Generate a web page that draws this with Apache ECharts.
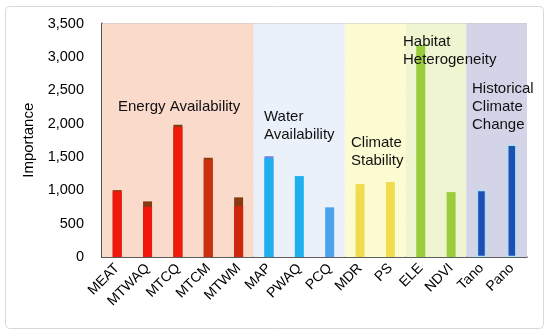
<!DOCTYPE html>
<html><head><meta charset="utf-8">
<script src="https://cdn.jsdelivr.net/npm/echarts@6/dist/echarts.min.js"></script>
<style>html,body{margin:0;padding:0;background:#fff}#c{width:550px;height:334px}</style>
</head><body><div id="c"></div>
<script>
const categories = ['MEAT','MTWAQ','MTCQ','MTCM','MTWM','MAP','PWAQ','PCQ','MDR','PS','ELE','NDVI','Tano','Pano'];
const importance = [1003, 834, 1981, 1487, 894, 1512, 1213, 744, 1093, 1123, 3178, 973, 1003, 1681];
const innerPart = [985, 750, 1950, 1460, 760, 1480, null, null, null, null, null, null, null, null];
const barColors = ['#8a3a12','#8a3a12','#8a3a12','#8a3a12','#8a3a12','#6d7fe3','#1fb0ee','#4ca2ec','#f0dc4e','#f0dc4e','#9acd3d','#9acd3d','#1f4fb5','#1f4fb5'];
const innerColors = ['#f0180c','#f0180c','#ee1a0c','#c9300e','#d0260c','#1fb0ee'];
const yTicks = [0, 500, 1000, 1500, 2000, 2500, 3000, 3500];
const groups = [
  {name:'Energy Availability', from:0, to:5, color:'#f9dacb'},
  {name:'Water\nAvailability', from:5, to:8, color:'#eaf1fa'},
  {name:'Climate\nStability', from:8, to:10, color:'#fdfbd1'},
  {name:'Habitat\nHeterogeneity', from:10, to:12, color:'#eff5d1'},
  {name:'Historical\nClimate\nChange', from:12, to:14, color:'#d4d4e8'}
];
const font = 'Liberation Sans, Arial, sans-serif';
const chart = echarts.init(document.getElementById('c'));
const labelPos = [[118,98],[264,108],[351,134],[403,33],[472,80]];
chart.setOption({
  animation:false,
  grid:{left:102,right:23,top:23.5,bottom:77},
  xAxis:[{
    type:'category', data:categories,
    axisLine:{lineStyle:{color:'#3a3a3a',width:1.5}},
    axisTick:{show:false},
    axisLabel:{rotate:45,fontSize:14,color:'#000',fontFamily:font,margin:9,interval:0}
  },{
    type:'value', min:0, max:14, show:false
  }],
  yAxis:{
    type:'value', min:0, max:3500, interval:500,
    name:'Importance', nameLocation:'middle', nameGap:50,
    nameTextStyle:{fontSize:15,color:'#000',fontFamily:font},
    axisLine:{show:true,lineStyle:{color:'#5a5450',width:2}},
    axisTick:{show:false},
    axisLabel:{fontSize:14.5,color:'#000',fontFamily:font,margin:18,
      formatter:v=>v.toLocaleString('en-US')},
    splitLine:{lineStyle:{color:'#c9c9c9',width:1}}
  },
  graphic:[{
    type:'rect', left:5, top:6, z:-10,
    shape:{width:538,height:322,r:4},
    style:{fill:'#fff',stroke:'#d8d8d8',lineWidth:1}
  }].concat(groups.map((g,i)=>({
    type:'text', left:labelPos[i][0], top:labelPos[i][1], z:100,
    style:{text:g.name, fontSize:15, fontFamily:font, fill:'#111', lineHeight:18}
  }))),
  series:[{
    type:'bar', xAxisIndex:1, data:[], silent:true,
    markArea:{silent:true, data:groups.map(g=>[{xAxis:g.from,itemStyle:{color:g.color}},{xAxis:g.to}])},
    z:0
  },{
    type:'bar', data:importance.map((v,i)=>({value:v,itemStyle:{color:barColors[i],
      borderColor:(i>=12?'#a9e3ef':barColors[i]),borderWidth:(i>=12?1.2:0)}})),
    barWidth:9, z:2
  },{
    type:'bar', data:innerPart.map((v,i)=>v==null?null:({value:v,itemStyle:{color:innerColors[i]}})),
    barWidth:9, barGap:'-100%', z:3
  }]
});
</script></body></html>
